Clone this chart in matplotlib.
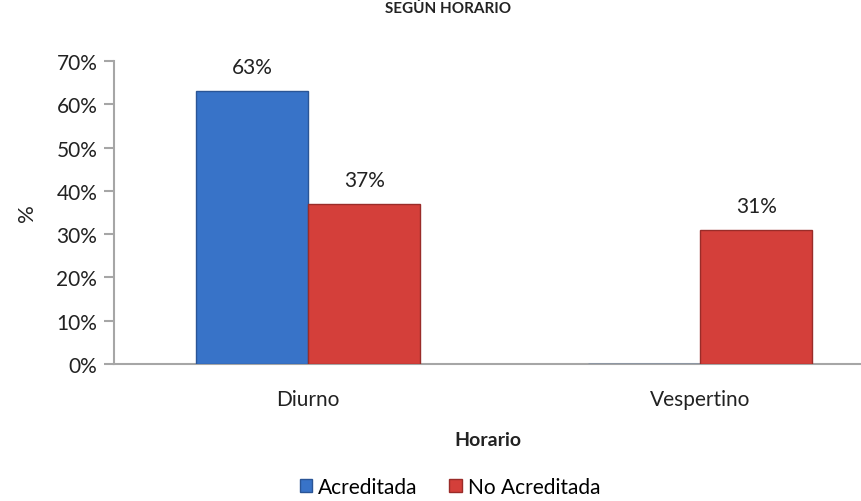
import numpy as np
import matplotlib.pyplot as plt
from matplotlib.ticker import PercentFormatter

# ======================
# Data
# ======================
categories = ["Diurno", "Vespertino"]
acreditada = [0.63, 0.0]
no_acreditada = [0.37, 0.31]
labels_acreditada = ["63%", ""]
labels_no_acreditada = ["37%", "31%"]

# ======================
# Figure
# ======================
plt.rcParams["font.family"] = ["Lato", "DejaVu Sans"]

fig = plt.figure(figsize=(8.62, 5.02), dpi=100)
ax = fig.add_axes([114 / 862, 137 / 502, 1 - 114 / 862, 303 / 502])

x = np.arange(len(categories))
w = 0.286

blue = "#3873C8"
red = "#D43F3A"

ax.bar(x - w / 2, acreditada, w, color=blue, edgecolor="#2A5596", linewidth=1.0,
       label="Acreditada", zorder=3)
ax.bar(x + w / 2, no_acreditada, w, color=red, edgecolor="#9A2C29", linewidth=1.0,
       label="No Acreditada", zorder=3)

for xi, v, t in zip(x - w / 2, acreditada, labels_acreditada):
    if t:
        ax.annotate(t, (xi, v), xytext=(0, 10), textcoords="offset points",
                    ha="center", va="bottom", fontsize=15, color="#222222")
for xi, v, t in zip(x + w / 2, no_acreditada, labels_no_acreditada):
    ax.annotate(t, (xi, v), xytext=(0, 10), textcoords="offset points",
                ha="center", va="bottom", fontsize=15, color="#222222")

ax.set_xlim(-0.495, 1.413)
ax.set_ylim(0, 0.70)
ax.set_yticks(np.arange(0, 0.71, 0.1))
ax.yaxis.set_major_formatter(PercentFormatter(1.0, decimals=0))
ax.set_xticks(x)
ax.set_xticklabels(categories)

for s in ["top", "right"]:
    ax.spines[s].set_visible(False)
for s in ["left", "bottom"]:
    ax.spines[s].set_color("#A6A6A6")
    ax.spines[s].set_linewidth(1.5)

ax.tick_params(axis="y", length=7, width=1.5, color="#A6A6A6", labelsize=15,
               labelcolor="#222222", pad=5)
ax.tick_params(axis="x", length=0, labelsize=15, labelcolor="#222222", pad=18)

ax.set_ylabel("%", fontsize=16, labelpad=14, color="#222222")
ax.set_xlabel("Horario", fontsize=14, fontweight="bold", labelpad=16, color="#222222")

fig.text(0.52, 0.998, "SEGÚN HORARIO", ha="center", va="top", fontsize=11,
         fontweight="bold", color="#222222")

fig.legend(loc="center", bbox_to_anchor=(450 / 862, 1 - 488 / 502),
           ncol=2, frameon=False, fontsize=15, handlelength=0.6, handleheight=0.6,
           handletextpad=0.3, columnspacing=1.5)

plt.savefig("out.png", dpi=100)
